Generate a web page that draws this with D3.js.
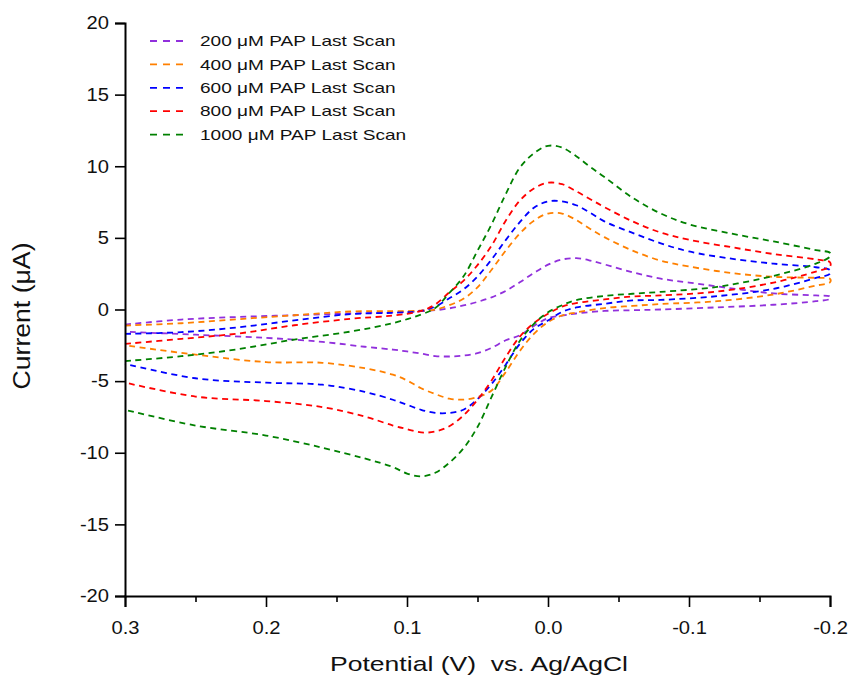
<!DOCTYPE html>
<html>
<head>
<meta charset="utf-8">
<script src="https://cdn.jsdelivr.net/npm/d3@7"></script>
<style>
    body { margin: 0; background: #fff; }
    text { font-family: Arial, "Liberation Sans", sans-serif; fill: #111; }
</style>
</head>
<body>
<svg id="chart" width="850" height="682"></svg>
<script>
// potential grid (V) for the forward scan (0.3 -> -0.2) and the reverse scan (-0.2 -> 0.3)
const forwardPotential = [0.30, 0.26, 0.22, 0.18, 0.14, 0.11, 0.09, 0.08, 0.07, 0.06, 0.05, 0.04, 0.03, 0.02, 0.01, 0.00,
    -0.01, -0.02, -0.03, -0.04, -0.06, -0.08, -0.10, -0.13, -0.16, -0.19, -0.20];
const reversePotential = [-0.20, -0.19, -0.16, -0.12, -0.08, -0.06, -0.04, -0.02, -0.01, 0.00, 0.01, 0.02, 0.03, 0.04,
    0.05, 0.06, 0.07, 0.08, 0.09, 0.10, 0.11, 0.13, 0.16, 0.20, 0.25, 0.30];

// current (uA)
const fwd200 = [-1.05, -0.7, -0.52, -0.4, -0.28, -0.2, -0.12, -0.05, 0.08, 0.28, 0.53, 0.85, 1.3, 1.9, 2.55, 3.13,
    3.49, 3.58, 3.42, 3.15, 2.6, 2.15, 1.88, 1.48, 1.12, 0.98, 0.9];
const rev200 = [0.75, 0.58, 0.33, 0.15, 0.0, -0.05, -0.1, -0.28, -0.43, -0.6, -1.15, -1.8, -2.15, -2.68, -3.05, -3.22,
    -3.28, -3.25, -3.08, -2.93, -2.8, -2.6, -2.26, -1.98, -1.76, -1.55];

const fwd400 = [-1.12, -0.96, -0.68, -0.4, -0.14, -0.12, -0.08, 0.0, 0.3, 0.75, 1.55, 2.78, 4.11, 5.3, 6.2, 6.7,
    6.7, 6.25, 5.62, 5.05, 4.11, 3.41, 3.0, 2.55, 2.28, 2.21, 2.14];
const rev400 = [1.9, 1.67, 1.05, 0.58, 0.38, 0.25, 0.1, -0.21, -0.42, -0.88, -1.7, -2.9, -4.37, -5.65, -6.11, -6.29,
    -6.22, -5.9, -5.5, -4.95, -4.55, -4.1, -3.72, -3.67, -3.15, -2.5];

const fwd600 = [-1.7, -1.58, -1.25, -0.76, -0.32, -0.23, -0.1, 0.2, 0.78, 1.4, 2.3, 3.5, 4.84, 6.1, 7.1, 7.55,
    7.55, 7.28, 6.75, 6.15, 5.35, 4.62, 4.05, 3.55, 3.2, 2.95, 2.75];
const rev600 = [2.5, 2.2, 1.44, 0.93, 0.67, 0.63, 0.4, 0.14, -0.17, -0.77, -1.35, -2.4, -3.85, -5.2, -6.25, -7.0,
    -7.22, -7.22, -7.0, -6.65, -6.3, -5.75, -5.25, -5.11, -4.8, -3.79];

const fwd800 = [-2.4, -2.05, -1.68, -1.1, -0.65, -0.42, -0.1, 0.35, 1.2, 2.0, 3.1, 4.46, 6.2, 7.6, 8.45, 8.85,
    8.75, 8.25, 7.7, 7.15, 6.15, 5.37, 4.87, 4.35, 3.87, 3.5, 3.3];
const rev800 = [3.0, 2.65, 1.88, 1.25, 0.98, 0.91, 0.7, 0.45, 0.2, -0.3, -0.95, -1.9, -3.32, -4.95, -6.3, -7.4,
    -8.15, -8.52, -8.58, -8.35, -8.1, -7.47, -6.81, -6.39, -6.08, -5.1];

const fwd1000 = [-3.6, -3.26, -2.77, -2.1, -1.54, -0.95, -0.35, 0.1, 1.15, 2.3, 4.1, 5.95, 8.05, 9.9, 10.9, 11.43,
    11.3, 10.7, 9.95, 9.25, 7.8, 6.7, 5.95, 5.3, 4.75, 4.15, 3.95];
const rev1000 = [3.7, 3.2, 2.35, 1.58, 1.23, 1.1, 0.95, 0.65, 0.3, -0.2, -1.0, -2.2, -4.0, -6.1, -8.2, -9.7,
    -10.7, -11.4, -11.65, -11.45, -11.0, -10.4, -9.65, -8.8, -8.1, -7.0];

const seriesNames = ["200 \u03bcM PAP Last Scan", "400 \u03bcM PAP Last Scan", "600 \u03bcM PAP Last Scan",
    "800 \u03bcM PAP Last Scan", "1000 \u03bcM PAP Last Scan"];
const forwardScans = [fwd200, fwd400, fwd600, fwd800, fwd1000];
const reverseScans = [rev200, rev400, rev600, rev800, rev1000];
const seriesColors = ["#9130dc", "#ff8000", "#0000ff", "#ff0000", "#008000"];

const xTicks = [0.3, 0.2, 0.1, 0.0, -0.1, -0.2];
const xMinorTicks = [0.25, 0.15, 0.05, -0.05, -0.15];
const yTicks = [-20, -15, -10, -5, 0, 5, 10, 15, 20];

const svg = d3.select("#chart");

const x = d3.scaleLinear().domain([0.3, -0.2]).range([125, 830]);
const y = d3.scaleLinear().domain([-20, 20]).range([596, 23]);

// the original text is drawn a little wide, so stretch it along its baseline
function widen(sel, factor) {
    sel.each(function() {
        const w = this.getComputedTextLength();
        d3.select(this)
            .attr("textLength", w * factor)
            .attr("lengthAdjust", "spacingAndGlyphs");
    });
}

const line = d3.line()
    .x(d => x(d[0]))
    .y(d => y(d[1]))
    .curve(d3.curveCatmullRom.alpha(0.5));

const loops = forwardScans.map((fwd, i) =>
    forwardPotential.map((e, j) => [e, fwd[j]])
        .concat(reversePotential.map((e, j) => [e, reverseScans[i][j]])));

svg.append("g")
    .selectAll("path")
    .data(loops)
    .enter().append("path")
    .attr("d", line)
    .attr("fill", "none")
    .attr("stroke", (d, i) => seriesColors[i])
    .attr("stroke-width", 1.8)
    .attr("stroke-dasharray", "6,4.5");

// axes
svg.append("g")
    .attr("transform", "translate(0,596)")
    .call(d3.axisBottom(x).tickValues(xTicks).tickSize(11).tickPadding(14)
        .tickFormat(d => d.toFixed(1)));

svg.append("g")
    .attr("transform", "translate(0,596)")
    .call(d3.axisBottom(x).tickValues(xMinorTicks).tickSize(6).tickFormat(""))
    .select(".domain").remove();

svg.append("g")
    .attr("transform", "translate(125,0)")
    .call(d3.axisLeft(y).tickValues(yTicks).tickSize(10).tickPadding(6)
        .tickFormat(d => String(d)));

svg.selectAll(".domain").attr("stroke", "#000").attr("stroke-width", 2);
svg.selectAll(".tick line").attr("stroke", "#000").attr("stroke-width", 1.6);
svg.selectAll(".tick text")
    .attr("font-family", "Arial, 'Liberation Sans', sans-serif")
    .attr("font-size", 18)
    .attr("fill", "#111")
    .call(widen, 1.12);

svg.append("text")
    .attr("x", 479)
    .attr("y", 671)
    .attr("text-anchor", "middle")
    .attr("font-size", 21)
    .attr("xml:space", "preserve")
    .attr("textLength", 298)
    .attr("lengthAdjust", "spacingAndGlyphs")
    .text("Potential (V)  vs. Ag/AgCl");

svg.append("text")
    .attr("transform", "translate(30,316) rotate(-90)")
    .attr("text-anchor", "middle")
    .attr("font-size", 23)
    .attr("textLength", 147)
    .attr("lengthAdjust", "spacingAndGlyphs")
    .text("Current (\u03bcA)");

// legend
const legend = svg.append("g")
    .selectAll("g")
    .data(seriesNames)
    .enter().append("g")
    .attr("transform", (d, i) => "translate(150," + (41 + i * 23.4) + ")");

legend.append("line")
    .attr("x1", 0)
    .attr("x2", 36)
    .attr("stroke", (d, i) => seriesColors[i])
    .attr("stroke-width", 1.8)
    .attr("stroke-dasharray", "7,6");

legend.append("text")
    .attr("x", 50)
    .attr("dy", "0.35em")
    .attr("font-size", 15)
    .text(d => d)
    .call(widen, 1.27);
</script>
</body>
</html>
